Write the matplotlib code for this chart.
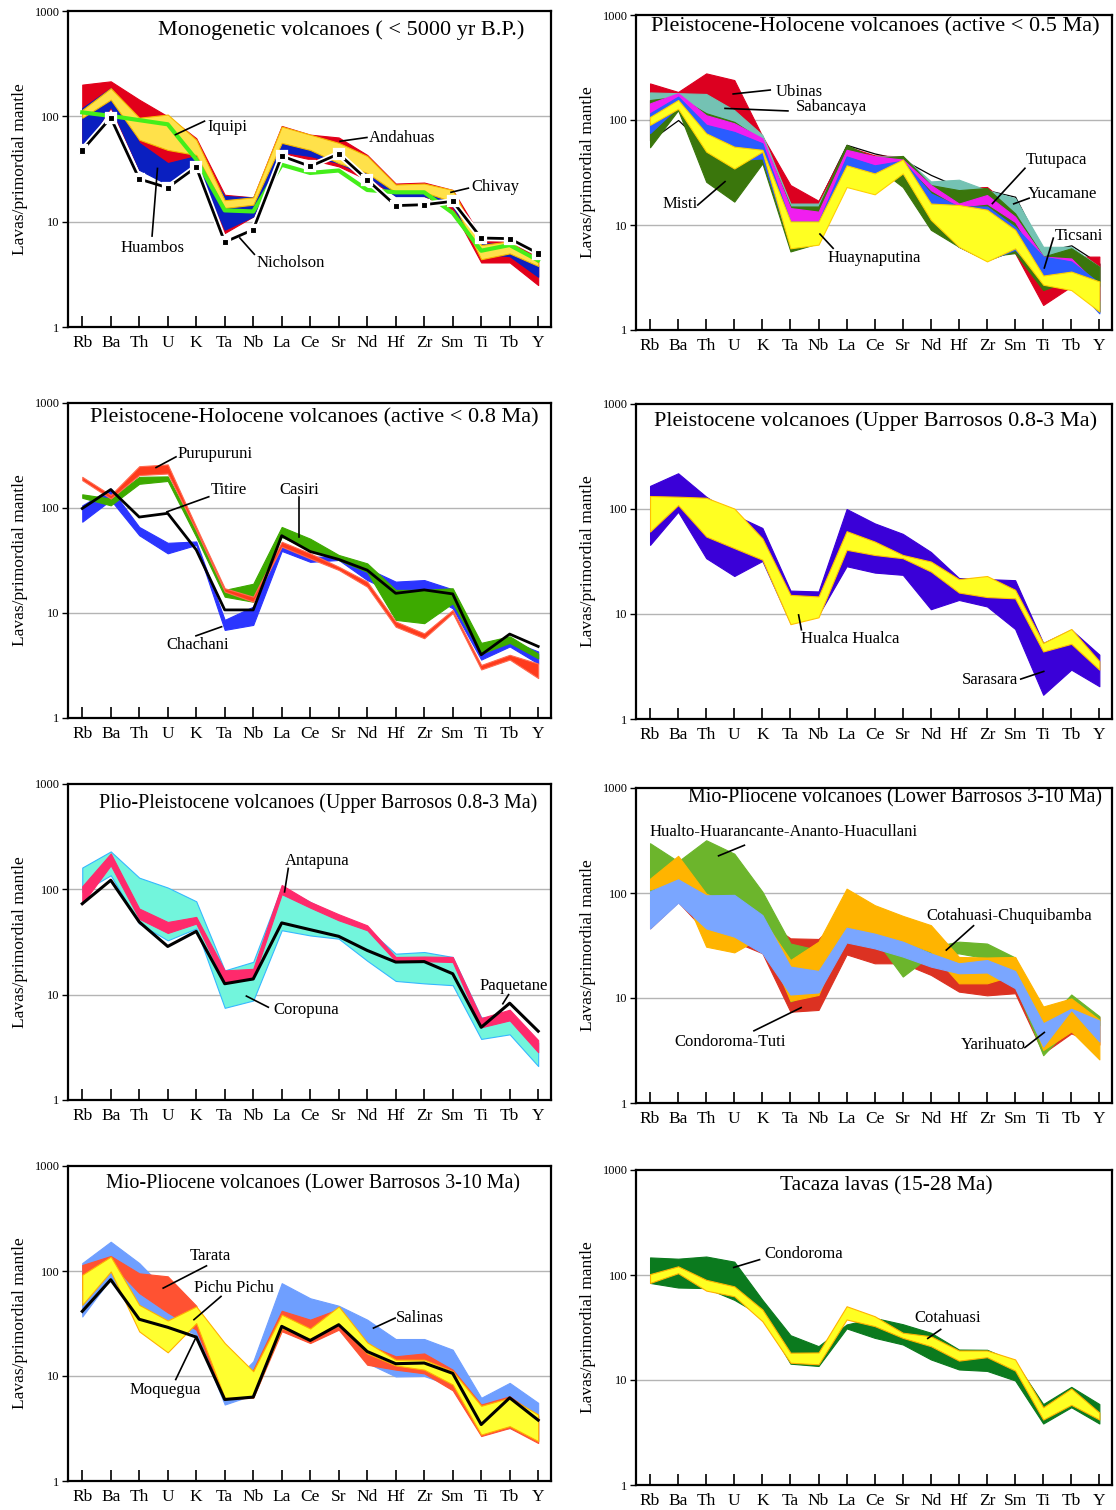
import numpy as np
import matplotlib
matplotlib.use("Agg")
import matplotlib.pyplot as plt
import matplotlib.patheffects as pe
from matplotlib.ticker import FixedLocator, FixedFormatter, NullLocator

plt.rcParams['font.family'] = ['Liberation Serif', 'DejaVu Serif']

elements = ['Rb', 'Ba', 'Th', 'U', 'K', 'Ta', 'Nb', 'La', 'Ce', 'Sr', 'Nd', 'Hf', 'Zr', 'Sm', 'Ti', 'Tb', 'Y']

# --- Panel 1: Monogenetic volcanoes
andahuas_hi = [200, 215, 144, 100, 62, 18, 17, 81, 67, 63, 43, 23, 23.5, 20, 7.1, 6.9, 5.0]
andahuas_lo = [50, 120, 31, 36, 33, 7.8, 11.2, 45, 39, 33.5, 25, 18, 17.5, 13, 4.1, 4.1, 2.5]
huambos_hi = [120, 185, 56, 36, 42, 17.5, 17, 58, 48, 39, 29, 19.5, 19.5, 17, 6.3, 6.0, 3.8]
huambos_lo = [46, 124, 31, 22.5, 33.5, 8.4, 11.2, 46, 42, 36, 27, 17.5, 17.5, 14, 5.0, 4.7, 3.0]
chivay_hi = [115, 185, 97, 104, 60, 16, 17, 80, 67, 56, 42, 22.5, 23, 20, 6.0, 6.5, 4.1]
chivay_lo = [97, 144, 60, 48, 43, 13.5, 14.5, 56, 48, 36, 29, 19, 19, 15.5, 4.4, 5.0, 3.8]
iquipi = [109, 101, 92, 84, 39, 12.8, 12.5, 34.7, 29, 30.6, 20, 19, 19, 12.1, 5.3, 6.0, 4.3]
nicholson = [47.5, 97, 25.4, 21, 33, 6.4, 8.4, 42, 33.5, 44, 25, 14.2, 14.5, 15.6, 7.0, 6.9, 5.0]

# --- Panel 2: Pleistocene-Holocene (< 0.5 Ma)
yucamane_hi = [155, 172, 124, 93, 70, 16, 16.7, 58, 48, 42, 30, 23, 21.5, 18.6, 5.6, 6.4, 4.3]
yucamane_lo = [64, 100, 56, 40, 43, 6.4, 6.7, 30, 27, 31, 12, 6.2, 4.6, 5.8, 3.1, 2.8, 1.5]
ubinas_hi = [223, 185, 278, 240, 70, 24, 17, 56, 46, 45, 25, 22.5, 23, 14, 5.8, 5.0, 5.0]
ubinas_lo = [64, 155, 80, 75, 60, 8.3, 8.3, 31, 27, 27, 13, 6.2, 7.2, 5.4, 1.73, 2.6, 1.93]
sabancaya_hi = [183, 180, 177, 124, 72, 16, 16, 52, 45, 45, 26, 27, 21.5, 18, 6.2, 6.2, 4.0]
sabancaya_lo = [155, 167, 116, 96, 64, 12.9, 12.9, 45, 38.6, 41.5, 21.5, 20, 17.3, 12.9, 4.3, 4.3, 2.8]
misti_hi = [155, 167, 116, 96, 64, 15, 15, 58, 43, 45.5, 24, 21.5, 22.5, 12.9, 5.0, 6.0, 4.0]
misti_lo = [55, 124, 25.8, 16.7, 38.6, 5.6, 6.7, 43, 37, 23, 9.0, 6.2, 5.0, 5.4, 2.4, 3.0, 2.6]
tutupaca_hi = [144, 180, 111, 93, 67, 14.5, 13.4, 52, 45, 42, 24, 16, 19.3, 12, 5.0, 4.8, 2.6]
tutupaca_lo = [116, 160, 90, 75, 60, 10.8, 10.8, 45, 37, 41, 21.5, 15, 16, 10.7, 4.0, 4.3, 1.9]
ticsani_hi = [116, 167, 90, 77, 60, 10.8, 10.8, 45, 37, 41, 20, 15, 15, 9.6, 5.0, 4.5, 2.8]
ticsani_lo = [75, 134, 56, 41.5, 43, 6.4, 6.7, 30, 27, 31, 12, 6.2, 4.6, 5.8, 3.1, 2.8, 1.44]
huayna_hi = [107, 155, 74.6, 55.7, 52, 10.8, 10.8, 37, 31, 42, 16, 15.5, 14, 9.0, 3.3, 3.6, 2.9]
huayna_lo = [90, 128, 50, 34.5, 50, 6.0, 6.5, 23, 19.6, 31, 11.2, 6.2, 4.5, 6.0, 2.7, 2.4, 1.5]

# --- Panel 3: Pleistocene-Holocene (< 0.8 Ma)
purupuruni_hi = [198, 133, 250, 260, 66, 17.2, 14.3, 47.7, 37, 27.6, 19.9, 8.3, 6.4, 10.7, 3.2, 4.0, 3.3]
purupuruni_lo = [184, 123, 206, 213, 61, 16, 12.8, 42.8, 33, 25.7, 17.8, 7.4, 5.75, 10, 2.9, 3.6, 2.4]
casiri_hi = [135, 123, 198, 200, 61, 16.6, 19, 66, 51, 35.7, 29.7, 16.6, 16.6, 17.2, 5.2, 6.0, 4.1]
casiri_lo = [125, 106, 170, 181, 53, 14.3, 12.8, 53, 40, 32, 24.6, 8.6, 8.0, 12.4, 4.1, 5.2, 3.7]
chachani_hi = [106, 153, 66, 46.6, 48, 8.6, 11.5, 42.8, 34.4, 34.4, 26.6, 19.9, 20.6, 16.8, 4.3, 5.5, 4.3]
chachani_lo = [74, 119, 55, 37, 44.5, 6.9, 7.7, 39, 30.7, 32, 20.6, 15.4, 15.4, 11.1, 3.6, 4.8, 3.3]
titire = [99, 150, 82, 89, 40, 10.7, 10.7, 54.5, 38.5, 32.4, 25.6, 15.4, 16.6, 15.2, 4.0, 6.3, 4.8]

# --- Panel 4: Pleistocene (Upper Barrosos)
sarasara_hi = [166, 219, 131, 88, 66, 16.7, 16.4, 100, 73, 58, 39, 22, 21.5, 21, 5.3, 7.1, 4.1]
sarasara_lo = [45.5, 94, 34, 23, 32, 8.2, 9.8, 28.5, 24.8, 23.6, 11.1, 13.6, 11.8, 7.2, 1.7, 2.95, 2.05]
hualca_hi = [133, 131, 128, 101, 52.5, 15.2, 14.7, 61.5, 49, 36.5, 31.6, 21.5, 23, 17, 5.3, 7.2, 3.55]
hualca_lo = [61, 109, 54.7, 42.4, 32.9, 8.0, 9.3, 40.9, 36.5, 34, 25.4, 16, 14.5, 14.1, 4.4, 5.2, 2.95]

# --- Panel 5: Plio-Pleistocene (Upper Barrosos)
coropuna_hi = [161, 229, 129, 104, 77, 17, 20.5, 105, 76, 55, 42.5, 24.5, 25.4, 22.8, 6.1, 5.7, 3.5]
coropuna_lo = [94.5, 136, 47.3, 32.8, 42.5, 7.5, 8.8, 40.9, 36.5, 34, 21, 13.5, 12.8, 12.3, 3.8, 4.2, 2.1]
antapuna_hi = [107, 219, 65.7, 49, 54.7, 17, 17.6, 110, 76, 58, 45.5, 22.8, 23, 22.8, 6.0, 7.2, 3.7]
antapuna_lo = [73, 169, 52.5, 38.5, 47.3, 13.1, 14.1, 90, 67, 50.8, 40.9, 20.8, 20.8, 20.4, 4.9, 5.7, 2.84]
paquetane = [73, 122, 49, 28.7, 39.9, 12.7, 14.1, 48, 41.4, 35.8, 26.3, 20.4, 20.6, 15.8, 4.9, 8.3, 4.5]

# --- Panel 6: Mio-Pliocene (Lower Barrosos), right
condoroma_tuti_hi = [77, 128, 95, 80, 57, 37, 36.5, 66, 42.6, 37.5, 27.6, 23.8, 23, 21.4, 6.2, 9.2, 6.6]
condoroma_tuti_lo = [46, 82, 42.6, 34.4, 26.7, 7.4, 7.7, 26, 21.4, 21.4, 16.6, 11.5, 10.6, 11.1, 2.98, 4.6, 3.6]
hualto_hi = [298, 200, 318, 237, 103, 33, 28.6, 68.5, 46, 35.7, 30.6, 34.4, 33, 24.3, 5.6, 10.8, 6.7]
hualto_lo = [77, 128, 95, 95, 57, 9.3, 11.5, 46, 36.9, 16, 25.6, 26.6, 23.8, 13.3, 2.85, 5.5, 5.5]
cotahuasi_ch_hi = [137, 226, 98.6, 76.6, 57, 23, 34.4, 110, 76.6, 60.6, 49.4, 24.6, 24.3, 24.6, 8.3, 9.9, 6.2]
cotahuasi_ch_lo = [108, 128, 30.8, 27.2, 38.4, 9.4, 10.7, 47.6, 39.8, 34.4, 27.6, 13.8, 13.8, 16.6, 3.2, 4.8, 2.6]
yarihuato_hi = [104, 135, 95, 96, 61.7, 19.9, 18.1, 46.7, 41, 34.4, 26.6, 21.4, 23, 18.1, 5.75, 7.9, 6.1]
yarihuato_lo = [46, 81, 46, 38.4, 26.7, 10.8, 11.3, 33.8, 29.7, 24.8, 19.9, 17.2, 17.5, 12.4, 3.45, 7.7, 3.85]

# --- Panel 7: Mio-Pliocene (Lower Barrosos), left
salinas_hi = [119, 190, 119, 62.7, 46, 7.3, 13.8, 76.6, 55, 46.7, 34.4, 22.5, 22.5, 17.8, 6.2, 8.6, 5.55]
salinas_lo = [36.9, 85, 46, 33, 24.8, 5.35, 6.6, 27.6, 21.4, 28.6, 13.3, 9.9, 10, 8.0, 2.88, 3.2, 2.4]
tarata_hi = [114, 139, 95, 89, 46.7, 6.4, 11.5, 41.8, 34.4, 43.4, 19.9, 15.4, 16.4, 11.5, 5.35, 6.4, 4.15]
tarata_lo = [66, 119, 61.7, 40.3, 27.6, 6.06, 6.2, 26.7, 20.6, 27.6, 12.8, 11.5, 10.6, 7.3, 2.68, 3.2, 2.3]
pichu_hi = [92, 137, 47.6, 33.8, 46, 20.6, 11.1, 38.4, 28.3, 46, 20.9, 14.3, 14.3, 11.1, 5.2, 6.2, 4.3]
pichu_lo = [47.6, 99, 26.6, 16.8, 31.9, 6.2, 6.3, 28.6, 22.6, 30.8, 16.4, 12.6, 11.5, 8.3, 2.77, 3.33, 2.4]
moquegua = [41.3, 82.6, 34.7, 29.1, 23.5, 5.97, 6.3, 29.7, 21.8, 30.8, 17.1, 13.1, 13.3, 10.6, 3.45, 6.2, 3.8]

# --- Panel 8: Tacaza lavas
condoroma_hi = [147, 143, 150, 134, 58, 26.7, 21, 33.8, 39, 34, 28.2, 19.5, 19.4, 14.9, 5.9, 8.6, 5.9]
condoroma_lo = [84, 76, 75, 58, 40.5, 14.3, 13.6, 31, 25.2, 21.8, 15.7, 12.6, 12.2, 9.9, 3.85, 5.5, 3.85]
cotahuasi_hi = [102, 121, 90, 78, 47, 18.2, 18.3, 50.4, 40.5, 28.2, 26.1, 19.1, 19.1, 15.7, 5.5, 8.3, 4.9]
cotahuasi_lo = [84, 104, 71, 62.7, 36.3, 14.6, 14.1, 37.7, 32.6, 25.2, 21, 15.3, 16.5, 12.3, 4.2, 5.8, 4.2]

x = np.arange(len(elements))

W, H = 1116, 1510
fig = plt.figure(figsize=(W / 100, H / 100), dpi=100)


def make_axes(left_px, right_px, top_px, bottom_px):
    ax = fig.add_axes([left_px / W, 1 - bottom_px / H,
                       (right_px - left_px) / W, (bottom_px - top_px) / H])
    ax.set_yscale('log')
    ax.set_ylim(1, 1000)
    ax.set_xlim(-0.5, 16.45)
    ax.yaxis.set_major_locator(FixedLocator([1, 10, 100, 1000]))
    ax.yaxis.set_major_formatter(FixedFormatter(['1', '10', '100', '1000']))
    ax.yaxis.set_minor_locator(NullLocator())
    ax.set_xticks(x)
    ax.set_xticklabels(elements, fontsize=12.5)
    ax.tick_params(axis='x', direction='in', length=8, width=1.2, pad=6)
    ax.tick_params(axis='y', direction='out', length=4, width=1.0, labelsize=9, pad=2)
    for s in ax.spines.values():
        s.set_linewidth(1.6)
    for v in (10, 100):
        ax.axhline(v, color='#b4b4b4', lw=1.0, zorder=0)
    ax.set_ylabel('Lavas/primordial mantle', fontsize=12.5, labelpad=5)
    return ax


def band(ax, lo, hi, color, edge=None, lw=0.8):
    ax.fill_between(x, lo, hi, facecolor=color, edgecolor=edge if edge else color,
                    linewidth=lw, zorder=2)


def line(ax, y, color='black', lw=2.2, marker=None, halo=True):
    effects = [pe.Stroke(linewidth=lw + 2.5, foreground='white'), pe.Normal()] if halo else None
    ax.plot(x, y, color=color, lw=lw, marker=marker, ms=4.5, mec='white', mew=0.8,
            zorder=4, path_effects=effects)


def label(ax, text, tx, ty, x0, y0, x1, y1, ha='left', fs=12):
    ax.plot([x0, x1], [y0, y1], color='black', lw=1.2, zorder=5)
    ax.text(tx, ty, text, ha=ha, va='center', fontsize=fs, zorder=6)


def title(ax, text, fx, fy, fs=16):
    ax.text(fx, fy, text, transform=ax.transAxes, ha='center', va='center', fontsize=fs)


# Panel 1
ax1 = make_axes(68, 551, 11, 327)
band(ax1, andahuas_lo, andahuas_hi, '#e2001a')
band(ax1, huambos_lo, huambos_hi, '#0a1fc0')
band(ax1, chivay_lo, chivay_hi, '#ffe14a', edge='#f5b800')
line(ax1, iquipi, color='#44ee1a', lw=3.0, halo=False)
line(ax1, nicholson, color='black', lw=2.0, marker='s')
title(ax1, 'Monogenetic volcanoes ( < 5000 yr B.P.)', 0.565, 0.94)
label(ax1, 'Iquipi', 4.39, 80, 3.27, 67, 4.29, 90)
label(ax1, 'Andahuas', 10.06, 62, 9.05, 58, 9.99, 63)
label(ax1, 'Chivay', 13.65, 21.2, 12.94, 19, 13.55, 20.8)
label(ax1, 'Huambos', 2.45, 5.6, 2.64, 32, 2.45, 7.3, ha='center')
label(ax1, 'Nicholson', 7.31, 4.05, 5.53, 7.0, 6.04, 4.9, ha='center')

# Panel 2
ax2 = make_axes(636, 1112, 15, 330)
band(ax2, yucamane_lo, yucamane_hi, 'white', edge='black', lw=0.9)
band(ax2, ubinas_lo, ubinas_hi, '#dc0020')
band(ax2, sabancaya_lo, sabancaya_hi, '#74c2b3')
band(ax2, misti_lo, misti_hi, '#3a760c')
band(ax2, tutupaca_lo, tutupaca_hi, '#f01ef0')
band(ax2, ticsani_lo, ticsani_hi, '#2a5cff')
band(ax2, huayna_lo, huayna_hi, '#ffff22', edge='#ffd000')
title(ax2, 'Pleistocene-Holocene volcanoes (active < 0.5 Ma)', 0.502, 0.962)
label(ax2, 'Ubinas', 4.47, 186, 2.96, 177, 4.28, 193)
label(ax2, 'Sabancaya', 5.19, 132, 2.67, 129, 4.91, 122)
label(ax2, 'Misti', 0.44, 16, 1.70, 15.5, 2.67, 25.9)
label(ax2, 'Huaynaputina', 6.32, 4.9, 6.05, 8.2, 6.52, 6.0)
label(ax2, 'Tutupaca', 13.38, 42, 13.35, 34.7, 12.19, 16)
label(ax2, 'Yucamane', 13.45, 19.7, 13.5, 18, 12.95, 15.9)
label(ax2, 'Ticsani', 14.42, 7.9, 14.36, 7.5, 14.04, 3.9)

# Panel 3
ax3 = make_axes(68, 551, 403, 718)
band(ax3, chachani_lo, chachani_hi, '#2b35ff')
band(ax3, casiri_lo, casiri_hi, '#3daa00')
band(ax3, purupuruni_lo, purupuruni_hi, '#ff3b1c', edge='#ff6a50')
line(ax3, titire, color='black', lw=2.0, halo=False)
title(ax3, 'Pleistocene-Holocene volcanoes (active < 0.8 Ma)', 0.51, 0.952)
label(ax3, 'Purupuruni', 3.35, 330, 2.59, 243, 3.29, 307)
label(ax3, 'Titire', 4.5, 148, 2.97, 92, 4.44, 128)
label(ax3, 'Casiri', 7.6, 150, 7.6, 128, 7.6, 53, ha='center')
label(ax3, 'Chachani', 4.06, 4.98, 3.99, 6.06, 4.89, 7.4, ha='center')

# Panel 4
ax4 = make_axes(636, 1112, 404, 719)
band(ax4, sarasara_lo, sarasara_hi, '#3a00d8')
band(ax4, hualca_lo, hualca_hi, '#ffff22', edge='#ffc000')
title(ax4, 'Pleistocene volcanoes (Upper Barrosos 0.8-3 Ma)', 0.504, 0.946)
label(ax4, 'Hualca Hualca', 5.39, 5.77, 5.29, 9.8, 5.39, 7.08)
label(ax4, 'Sarasara', 11.12, 2.33, 13.2, 2.4, 14.02, 2.84)

# Panel 5
ax5 = make_axes(68, 551, 784, 1100)
band(ax5, coropuna_lo, coropuna_hi, '#72f5dc', edge='#35b8ff')
band(ax5, antapuna_lo, antapuna_hi, '#ff2a6c')
line(ax5, paquetane, color='black', lw=2.2, halo=False)
title(ax5, 'Plio-Pleistocene volcanoes (Upper Barrosos 0.8-3 Ma)', 0.518, 0.94, fs=14.4)
label(ax5, 'Antapuna', 7.1, 187, 7.23, 158, 7.1, 94.6)
label(ax5, 'Coropuna', 6.69, 7.2, 6.53, 7.6, 5.76, 9.7)
label(ax5, 'Paquetane', 13.94, 12, 14.96, 10, 14.76, 8.2)

# Panel 6
ax6 = make_axes(636, 1112, 788, 1103)
band(ax6, condoroma_tuti_lo, condoroma_tuti_hi, '#dc3222')
band(ax6, hualto_lo, hualto_hi, '#6cb52c')
band(ax6, cotahuasi_ch_lo, cotahuasi_ch_hi, '#ffb400')
band(ax6, yarihuato_lo, yarihuato_hi, '#7aa6ff')
title(ax6, 'Mio-Pliocene volcanoes (Lower Barrosos 3-10 Ma)', 0.544, 0.968, fs=14.4)
label(ax6, 'Hualto-Huarancante-Ananto-Huacullani', -0.03, 382, 2.44, 226, 3.36, 285)
label(ax6, 'Cotahuasi-Chuquibamba', 9.84, 60.7, 10.55, 28.6, 11.52, 48.8)
label(ax6, 'Condoroma-Tuti', 0.86, 3.8, 3.7, 4.87, 5.38, 8.1)
label(ax6, 'Yarihuato', 11.05, 3.58, 13.35, 3.38, 14.04, 4.7)

# Panel 7
ax7 = make_axes(68, 551, 1166, 1481)
band(ax7, salinas_lo, salinas_hi, '#6f9fff')
band(ax7, tarata_lo, tarata_hi, '#ff5232')
band(ax7, pichu_lo, pichu_hi, '#ffff30', edge='#ffb000')
line(ax7, moquegua, color='black', lw=2.2, halo=False)
title(ax7, 'Mio-Pliocene volcanoes (Lower Barrosos 3-10 Ma)', 0.507, 0.943, fs=14.4)
label(ax7, 'Tarata', 3.77, 139, 2.84, 68.7, 4.36, 112)
label(ax7, 'Pichu Pichu', 3.92, 68.7, 3.92, 34.4, 4.87, 57.3)
label(ax7, 'Salinas', 11.02, 35.6, 10.22, 28.6, 10.98, 35.6)
label(ax7, 'Moquegua', 2.9, 7.3, 3.28, 9.25, 3.98, 23, ha='center')

# Panel 8
ax8 = make_axes(636, 1112, 1170, 1485)
band(ax8, condoroma_lo, condoroma_hi, '#0b7a1e')
band(ax8, cotahuasi_lo, cotahuasi_hi, '#ffff22', edge='#ffb000')
title(ax8, 'Tacaza lavas (15-28 Ma)', 0.525, 0.949, fs=15.5)
label(ax8, 'Condoroma', 4.06, 158, 2.98, 118, 3.9, 140)
label(ax8, 'Cotahuasi', 9.42, 39, 9.89, 24.9, 10.35, 30.3)

fig.savefig('out.png', dpi=100)
